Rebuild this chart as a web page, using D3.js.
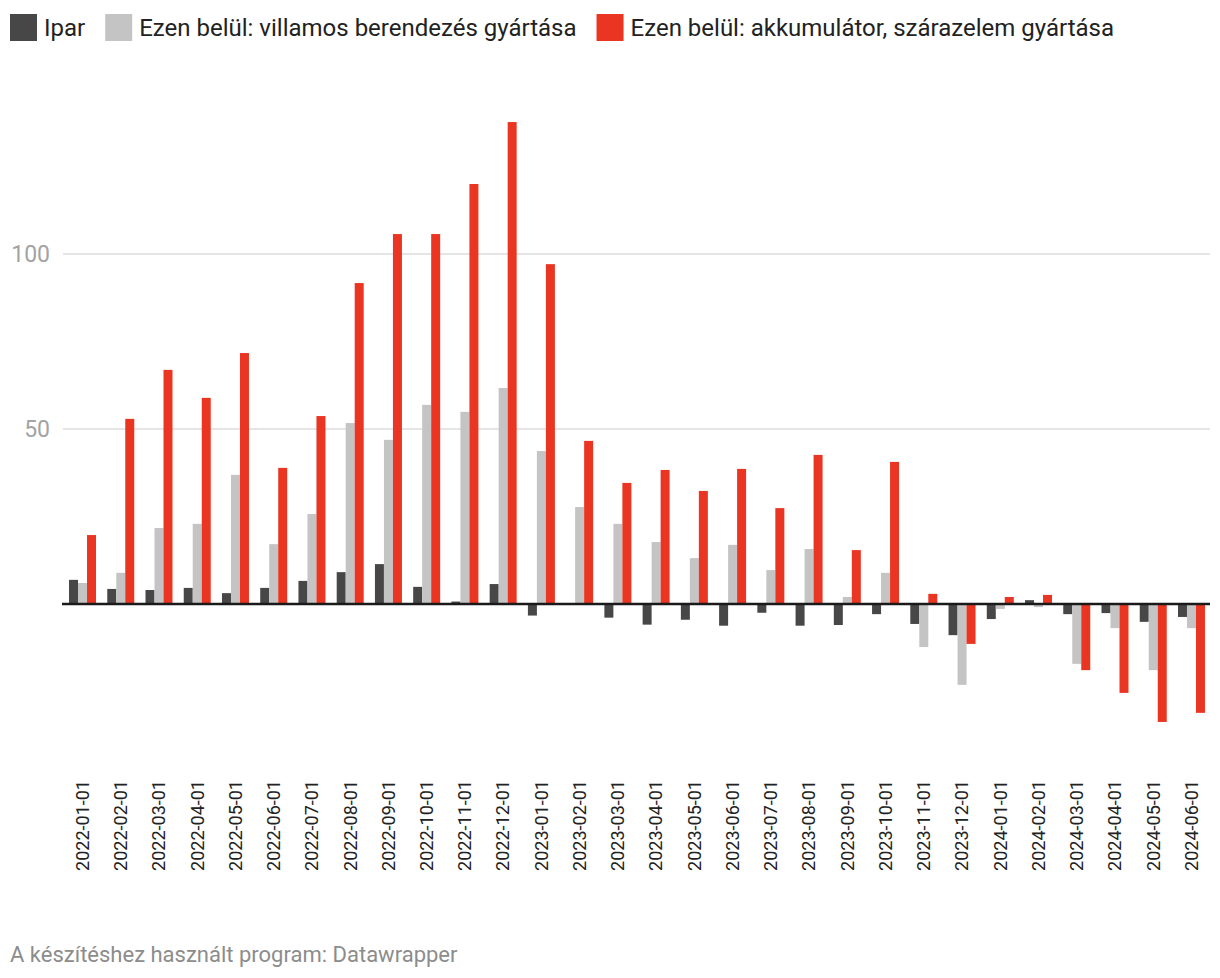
<!DOCTYPE html>
<html>
<head>
<meta charset="utf-8">
<script src="https://cdn.jsdelivr.net/npm/d3@7"></script>
<style>
  html, body { margin: 0; padding: 0; background: #fff; }
  svg { display: block; font-family: Roboto, "Noto Sans", sans-serif; }
</style>
</head>
<body>
<svg id="chart" width="1220" height="978"></svg>
<script>
const months = ["2022-01-01","2022-02-01","2022-03-01","2022-04-01","2022-05-01","2022-06-01","2022-07-01","2022-08-01","2022-09-01","2022-10-01","2022-11-01","2022-12-01","2023-01-01","2023-02-01","2023-03-01","2023-04-01","2023-05-01","2023-06-01","2023-07-01","2023-08-01","2023-09-01","2023-10-01","2023-11-01","2023-12-01","2024-01-01","2024-02-01","2024-03-01","2024-04-01","2024-05-01","2024-06-01"];
const ipar = [6.9, 4.3, 4.0, 4.6, 3.1, 4.6, 6.6, 9.1, 11.4, 4.9, 0.7, 5.7, -3.3, 0, -3.9, -5.9, -4.5, -6.2, -2.5, -6.2, -6.0, -2.9, -5.7, -8.9, -4.3, 1.1, -2.9, -2.6, -5.1, -3.7];
const villamos = [6.0, 8.9, 21.7, 22.9, 36.9, 17.1, 25.7, 51.7, 46.9, 56.9, 54.9, 61.7, 43.7, 27.7, 22.9, 17.7, 13.1, 16.9, 9.7, 15.7, 2.0, 8.9, -12.3, -23.1, -1.4, -0.9, -17.1, -6.9, -18.9, -6.9];
const akku = [19.7, 52.9, 66.9, 58.9, 71.7, 38.9, 53.7, 91.7, 105.7, 105.7, 120.0, 137.7, 97.1, 46.6, 34.6, 38.3, 32.3, 38.6, 27.4, 42.6, 15.4, 40.6, 2.9, -11.4, 2.0, 2.6, -18.9, -25.4, -33.7, -31.1];
const seriesNames = ["Ipar", "Ezen belül: villamos berendezés gyártása", "Ezen belül: akkumulátor, szárazelem gyártása"];
const seriesColors = ["#474747", "#c4c4c4", "#ea3522"];
const yTicks = [50, 100];
const footerText = "A készítéshez használt program: Datawrapper";

const seriesValues = [ipar, villamos, akku];
const svg = d3.select("#chart");

const x = d3.scaleBand().domain(months).range([63.4, 1210.6]).paddingInner(0.294).paddingOuter(0.147);
const xs = d3.scaleBand().domain(d3.range(seriesNames.length)).range([0, x.bandwidth()]);
const y = d3.scaleLinear().domain([0, 100]).range([604, 254]);

// gridlines + y labels
const grid = svg.append("g");
grid.selectAll("line").data(yTicks).join("line")
  .attr("x1", 63).attr("x2", 1210)
  .attr("y1", d => y(d)).attr("y2", d => y(d))
  .attr("stroke", "#e5e5e5").attr("stroke-width", 2);
grid.selectAll("text").data(yTicks).join("text")
  .attr("x", 50).attr("y", d => y(d)).attr("dy", "0.35em")
  .attr("text-anchor", "end").attr("fill", "#a3a3a3")
  .attr("font-size", 23).text(d => d);

// bars
const groups = svg.append("g").selectAll("g").data(months).join("g")
  .attr("transform", d => `translate(${x(d)},0)`);
groups.selectAll("rect").data((m, i) => seriesValues.map((s, k) => ({k, v: s[i]}))).join("rect")
  .attr("x", d => xs(d.k))
  .attr("width", xs.bandwidth())
  .attr("y", d => y(Math.max(0, d.v)))
  .attr("height", d => Math.abs(y(d.v) - y(0)))
  .attr("fill", d => seriesColors[d.k]);

// baseline
svg.append("line").attr("x1", 62).attr("x2", 1210)
  .attr("y1", y(0)).attr("y2", y(0))
  .attr("stroke", "#1a1a1a").attr("stroke-width", 2.5);

// x axis labels
const xAxis = svg.append("g").attr("transform", "translate(0,780)")
  .call(d3.axisBottom(x).tickSize(0).tickPadding(0));
xAxis.select(".domain").remove();
xAxis.selectAll("text")
  .attr("transform", "rotate(-90)")
  .attr("x", 0).attr("y", 0).attr("dy", "0.35em")
  .attr("text-anchor", "end")
  .attr("fill", "#222").attr("font-size", 18)
  .attr("font-family", "Roboto, sans-serif");

// legend
const legend = svg.append("g");
let lx = 10;
seriesNames.forEach((name, k) => {
  legend.append("rect").attr("x", lx).attr("y", 14).attr("width", 27).attr("height", 27).attr("fill", seriesColors[k]);
  const t = legend.append("text").attr("x", lx + 34).attr("y", 28).attr("dy", "0.35em")
    .attr("font-size", 24).attr("fill", "#222").text(name);
  lx = lx + 34 + t.node().getComputedTextLength() + 20;
});

// footer
svg.append("text").attr("x", 10).attr("y", 962)
  .attr("font-size", 22).attr("fill", "#8c8c8c").text(footerText);
</script>
</body>
</html>
